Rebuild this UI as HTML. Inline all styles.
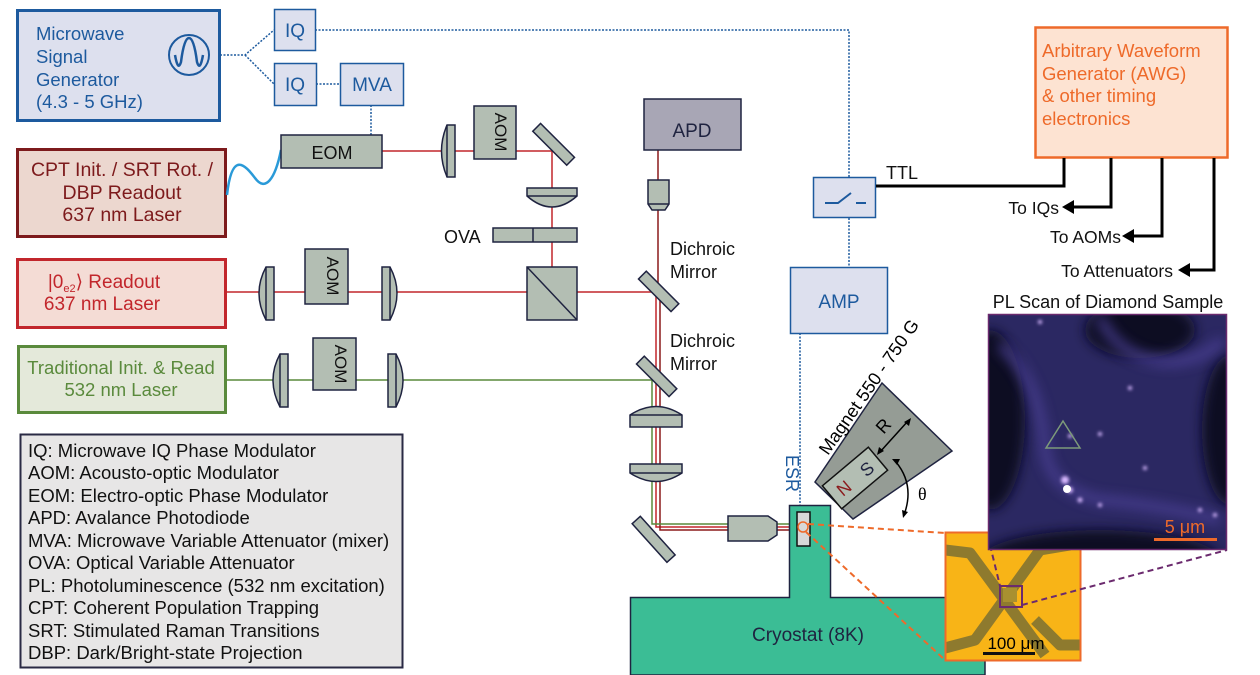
<!DOCTYPE html>
<html><head><meta charset="utf-8"><style>
html,body{margin:0;padding:0;background:#fff;}
svg{display:block;font-family:"Liberation Sans",sans-serif;}
</style></head><body>
<svg width="1260" height="675" viewBox="0 0 1260 675" xmlns="http://www.w3.org/2000/svg">
<defs>
<filter id="bl" x="-20%" y="-20%" width="140%" height="140%"><feGaussianBlur stdDeviation="6"/></filter>
<filter id="bl2"><feGaussianBlur stdDeviation="1.5"/></filter>
<clipPath id="plc"><rect x="988" y="314" width="239" height="236"/></clipPath>
<clipPath id="gc"><rect x="945" y="532" width="136" height="129"/></clipPath>
</defs>

<!-- Microwave generator -->
<rect x="17.5" y="10.5" width="202" height="110" fill="#dde0ee" stroke="#1d5a9e" stroke-width="3"/>
<g fill="#1d5a9e" font-size="18.5">
<text x="36" y="40">Microwave</text><text x="36" y="63">Signal</text><text x="36" y="86">Generator</text><text x="36" y="108">(4.3 - 5 GHz)</text>
</g>
<circle cx="189" cy="55" r="20" fill="none" stroke="#1d5a9e" stroke-width="2"/>
<path d="M175 55 Q178 72 181 62 Q184 38 189 38 Q194 38 197 62 Q200 72 203 55" fill="none" stroke="#1d5a9e" stroke-width="2.5"/>

<!-- dotted MW lines -->
<g stroke="#1d5a9e" stroke-width="1.5" stroke-dasharray="2,1.5" fill="none">
<path d="M220 55 H245 L274 30"/><path d="M245 55 L274 84"/>
<path d="M315 30 H849 V177"/><path d="M316 84 H340"/><path d="M371 105 V135"/>
<path d="M849 218 V267"/><path d="M800 333 V505"/>
</g>
<rect x="274.5" y="9.5" width="41" height="41" fill="#dde0ee" stroke="#1d5a9e" stroke-width="1.5"/>
<text x="295" y="37" text-anchor="middle" font-size="19" fill="#1d5a9e">IQ</text>
<rect x="274.5" y="63.5" width="42" height="42" fill="#dde0ee" stroke="#1d5a9e" stroke-width="1.5"/>
<text x="295" y="91" text-anchor="middle" font-size="19" fill="#1d5a9e">IQ</text>
<rect x="340.5" y="63.5" width="63" height="42" fill="#dde0ee" stroke="#1d5a9e" stroke-width="1.5"/>
<text x="372" y="91" text-anchor="middle" font-size="19" fill="#1d5a9e">MVA</text>

<!-- Lasers -->
<rect x="17.5" y="149.5" width="208" height="87" fill="#ecd7cf" stroke="#7d1a1c" stroke-width="3"/>
<g fill="#7d1a1c" font-size="19.5" text-anchor="middle"><text x="122" y="176">CPT Init. / SRT Rot. /</text><text x="122" y="199">DBP Readout</text><text x="122" y="221">637 nm Laser</text></g>
<rect x="17.5" y="259.5" width="208" height="68" fill="#f4dcd5" stroke="#c2262c" stroke-width="3"/>
<g fill="#c2262c" font-size="19" text-anchor="middle"><text x="104" y="288">|0<tspan font-size="11" dy="4">e2</tspan><tspan dy="-4">⟩ Readout</tspan></text><text x="102" y="310">637 nm Laser</text></g>
<rect x="18.5" y="346.5" width="207" height="66" fill="#e4e9da" stroke="#5a8a3c" stroke-width="3"/>
<g fill="#5a8a3c" font-size="18.5" text-anchor="middle"><text x="121" y="374">Traditional Init. &amp; Read</text><text x="121" y="396">532 nm Laser</text></g>

<!-- fiber -->
<path d="M227 195 C232 150 245 165 255 178 C265 192 275 180 281 150" fill="none" stroke="#2a9ad8" stroke-width="2.5"/>

<!-- legend -->
<rect x="20.5" y="434.5" width="382" height="233" fill="#e7e6e6" stroke="#2a2a44" stroke-width="2"/>
<g font-size="18.5" fill="#111">
<text x="28" y="457">IQ: Microwave IQ Phase Modulator</text>
<text x="28" y="479">AOM: Acousto-optic Modulator</text>
<text x="28" y="502">EOM: Electro-optic Phase Modulator</text>
<text x="28" y="524">APD: Avalance Photodiode</text>
<text x="28" y="547">MVA: Microwave Variable Attenuator (mixer)</text>
<text x="28" y="569">OVA: Optical Variable Attenuator</text>
<text x="28" y="592">PL: Photoluminescence (532 nm excitation)</text>
<text x="28" y="614">CPT: Coherent Population Trapping</text>
<text x="28" y="637">SRT: Stimulated Raman Transitions</text>
<text x="28" y="659">DBP: Dark/Bright-state Projection</text>
</g>

<!-- beams -->
<g fill="none" stroke-width="1.5">
<path d="M382 151 H552 V292" stroke="#c2262c"/>
<path d="M225 292 H656 V527 H800" stroke="#c2262c"/>
<path d="M658 150 V292 M660 292 V530 H800" stroke="#8b1a1c"/>
<path d="M225 380 H652 V524 H800" stroke="#5a8a3c"/>
</g>

<!-- optical components -->
<g fill="#b3beb3" stroke="#1f2340" stroke-width="1.5">
<rect x="281" y="135" width="101" height="33"/>
<path d="M455 125 V177 H447 Q436 151 447 125 Z"/><line x1="447" y1="125" x2="447" y2="177"/>
<rect x="474" y="106" width="42" height="53"/>
<rect x="530" y="139" width="48" height="11" transform="rotate(45 554 144)"/>
<path d="M527 188 H577 V196 Q552 218 527 196 Z"/><line x1="527" y1="196" x2="577" y2="196"/>
<rect x="493" y="228" width="84" height="14"/><line x1="533" y1="228" x2="533" y2="242"/>
<rect x="527" y="267" width="50" height="53"/><line x1="527" y1="267" x2="577" y2="320"/>
<path d="M274 267 V320 H266 Q252 293 266 267 Z"/><line x1="266" y1="267" x2="266" y2="320"/>
<rect x="305" y="249" width="43" height="55"/>
<path d="M382 267 V320 H390 Q404 293 390 267 Z"/><line x1="390" y1="267" x2="390" y2="320"/>
<path d="M288 354 V407 H280 Q266 380 280 354 Z"/><line x1="280" y1="354" x2="280" y2="407"/>
<rect x="313" y="338" width="43" height="52"/>
<path d="M388 354 V407 H396 Q410 380 396 354 Z"/><line x1="396" y1="354" x2="396" y2="407"/>
<rect x="644" y="99" width="97" height="51" fill="#a8a6b5"/>
<path d="M648 180 H669 V204 L665 210 H652 L648 204 Z"/><line x1="648" y1="204" x2="669" y2="204"/>
<rect x="636" y="286" width="46" height="11" transform="rotate(45 659 291)"/>
<rect x="634" y="371" width="46" height="11" transform="rotate(45 657 376)"/>
<path d="M630 415 V427 H682 V415 Q656 398 630 415 Z"/><line x1="630" y1="415" x2="682" y2="415"/>
<path d="M630 464 V473 Q656 490 682 473 V464 Z"/><line x1="630" y1="473" x2="682" y2="473"/>
<rect x="628" y="534" width="52" height="11" transform="rotate(48 654 539)"/>
<path d="M728 516 H768 L777 522 V535 L768 541 H728 Z"/>
</g>
<text x="332" y="159" text-anchor="middle" font-size="18" fill="#111">EOM</text>
<g font-size="17" fill="#111">
<text transform="translate(495 132) rotate(90)" text-anchor="middle" y="0">AOM</text>
<text transform="translate(327 276) rotate(90)" text-anchor="middle" y="0">AOM</text>
<text transform="translate(335 364) rotate(90)" text-anchor="middle" y="0">AOM</text>
</g>
<text x="444" y="243" font-size="18" fill="#111">OVA</text>
<text x="692" y="137" text-anchor="middle" font-size="19" fill="#1f2340">APD</text>
<g font-size="18" fill="#111"><text x="670" y="255">Dichroic</text><text x="670" y="278">Mirror</text><text x="670" y="347">Dichroic</text><text x="670" y="370">Mirror</text></g>

<!-- switch, AMP -->
<rect x="813.5" y="177.5" width="62" height="40" fill="#dde0ee" stroke="#1d5a9e" stroke-width="1.5"/>
<path d="M825 203 H838 L851 193 M856 203 H866" stroke="#1d5a9e" stroke-width="2" fill="none"/>
<rect x="790.5" y="267.5" width="97" height="66" fill="#dde0ee" stroke="#1d5a9e" stroke-width="1.5"/>
<text x="839" y="308" text-anchor="middle" font-size="19" fill="#1d5a9e">AMP</text>
<text transform="translate(786 455) rotate(90)" font-size="18" fill="#1d5a9e">ESR</text>

<!-- AWG -->
<rect x="1035.5" y="27.5" width="192" height="130" fill="#fde3d2" stroke="#ee6a2a" stroke-width="2.5"/>
<g font-size="18.5" fill="#ee6a2a"><text x="1042" y="57">Arbitrary Waveform</text><text x="1042" y="80">Generator (AWG)</text><text x="1042" y="102">&amp; other timing</text><text x="1042" y="125">electronics</text></g>
<g stroke="#000" stroke-width="3" fill="none">
<path d="M1064 158 V186 H876"/><path d="M1111 158 V207 H1070"/><path d="M1162 158 V236 H1130"/><path d="M1214 158 V270 H1186"/>
</g>
<g fill="#000"><path d="M1062 207 L1074 200 V214 Z"/><path d="M1122 236 L1134 229 V243 Z"/><path d="M1178 270 L1190 263 V277 Z"/></g>
<text x="886" y="179" font-size="18" fill="#111">TTL</text>
<g font-size="17.5" fill="#111" text-anchor="end"><text x="1059" y="214">To IQs</text><text x="1121" y="243">To AOMs</text><text x="1173" y="277">To Attenuators</text></g>

<!-- cryostat -->
<path d="M789.5 505.5 H830.5 V597.5 H985 V675 H630.5 V597.5 H789.5 Z" fill="#3bbd95" stroke="#1f2340" stroke-width="1.5"/>
<text x="808" y="641" text-anchor="middle" font-size="19" fill="#1f2340">Cryostat (8K)</text>
<rect x="797" y="512" width="13" height="34" fill="#d8d8d8" stroke="#111" stroke-width="1.5"/>
<circle cx="803" cy="527" r="5" fill="none" stroke="#ee6a2a" stroke-width="1.5"/>
<g stroke="#ee6a2a" stroke-width="2" stroke-dasharray="6,4" fill="none"><path d="M808 524 L945 533"/><path d="M806 532 L945 660"/></g>

<!-- magnet -->
<polygon points="882,383 952,451 853,519 815,482" fill="#959c95" stroke="#1f2340" stroke-width="1.5"/>
<g transform="translate(855 478) rotate(-40)">
<rect x="-30" y="-15" width="60" height="30" fill="#b3beb3" stroke="#111" stroke-width="1.5"/>
<text x="-15" y="7" text-anchor="middle" font-size="18" fill="#8b1a1c">N</text>
<text x="15" y="7" text-anchor="middle" font-size="18" fill="#1f2340">S</text>
</g>
<path d="M880 452 L908 421" stroke="#000" stroke-width="1.5"/>
<path d="M877 455 l2 -8 l5 4 Z M911 418 l-2 8 l-5 -4 Z" fill="#000"/>
<text transform="translate(888 430) rotate(-48)" font-size="18" fill="#000" text-anchor="middle">R</text>
<path d="M896 462 Q915 485 904 515" stroke="#000" stroke-width="1.5" fill="none"/>
<path d="M892 459 l8 0 l-3 6 Z M903 518 l-1 -8 l6 2 Z" fill="#000"/>
<text x="918" y="500" font-size="18" fill="#000" font-family="Liberation Serif,serif">θ</text>
<text transform="translate(828 456) rotate(-55)" font-size="18" fill="#000">Magnet 550 - 750 G</text>

<!-- gold image -->
<g clip-path="url(#gc)">
<rect x="945" y="532" width="136" height="129" fill="#f8b417"/>
<g stroke="#8e7a2e" stroke-width="11" fill="none" stroke-linejoin="round">
<path d="M945 550 L970 553 L1045 655"/><path d="M1070 545 L1040 550 L975 640 L945 648"/><path d="M1035 620 L1060 645 L1081 645"/>
</g>
<rect x="1003" y="588" width="14" height="14" fill="#a89030"/>
</g>
<rect x="945.5" y="532.5" width="135" height="128" fill="none" stroke="#ee6a2a" stroke-width="2"/>
<rect x="1000" y="586" width="22" height="21" fill="none" stroke="#6b2a6e" stroke-width="2"/>
<text x="1016" y="649" text-anchor="middle" font-size="17" fill="#000">100 μm</text>
<rect x="983" y="652" width="52" height="3" fill="#111"/>
<g stroke="#6b2a6e" stroke-width="2" stroke-dasharray="6,4" fill="none"><path d="M990 545 L1000 586"/><path d="M1022 605 L1227 550"/></g>

<!-- PL scan -->
<text x="1108" y="308" text-anchor="middle" font-size="18" fill="#111">PL Scan of Diamond Sample</text>
<g clip-path="url(#plc)">
<rect x="988" y="314" width="239" height="236" fill="#2b2862"/>
<g filter="url(#bl)" fill="#0d0c24">
<ellipse cx="1140" cy="330" rx="55" ry="28"/>
<ellipse cx="990" cy="420" rx="35" ry="90"/>
<ellipse cx="1230" cy="430" rx="28" ry="75"/>
<ellipse cx="1100" cy="560" rx="120" ry="30"/>
</g>
<g filter="url(#bl)" fill="none" stroke="#4b4196" stroke-width="10" opacity="0.8">
<path d="M1000 345 Q1040 380 1045 450 Q1050 490 1100 500 Q1160 505 1220 520"/>
<path d="M1100 318 Q1120 360 1170 362 Q1205 360 1222 340"/>
</g>
<g fill="#d8b8ff" filter="url(#bl2)">
<circle cx="1065" cy="480" r="4"/><circle cx="1070" cy="490" r="3"/><circle cx="1080" cy="500" r="2.5"/><circle cx="1100" cy="505" r="2"/>
<circle cx="1130" cy="388" r="2"/><circle cx="1100" cy="434" r="2"/><circle cx="1145" cy="468" r="2"/><circle cx="1070" cy="436" r="2"/>
<circle cx="1040" cy="322" r="2"/><circle cx="1200" cy="510" r="2"/><circle cx="1215" cy="515" r="2"/>
</g>
<circle cx="1067" cy="489" r="4" fill="#fff"/>
</g>
<rect x="988.5" y="314.5" width="238" height="235" fill="none" stroke="#6b2a6e" stroke-width="1.5"/>
<polygon points="1063,421 1046,448 1080,448" fill="none" stroke="#7d9a7a" stroke-width="1.5"/>
<text x="1185" y="533" text-anchor="middle" font-size="18" fill="#ee6a2a">5 μm</text>
<rect x="1154" y="538" width="63" height="3" fill="#ee6a2a"/>
</svg>
</body></html>
